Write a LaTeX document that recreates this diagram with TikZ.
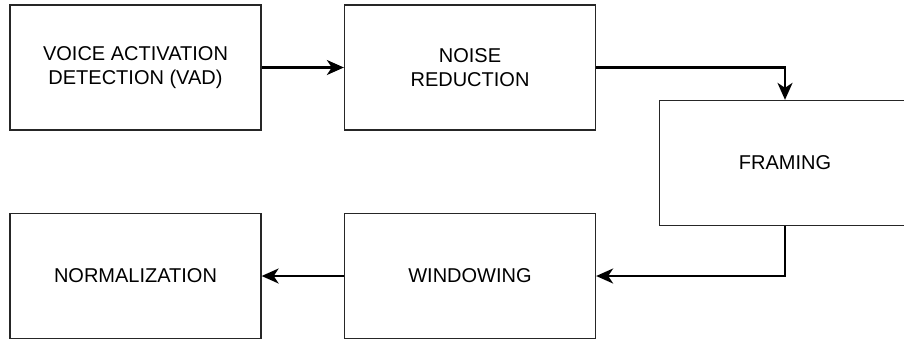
\documentclass[tikz,border=0pt]{standalone}
\usepackage{fontspec}
\setmainfont{Liberation Sans}
\usepackage{tikz}
\usetikzlibrary{shapes,arrows.meta}
\tikzset{x=1pt, y=-1pt, every edge/.style={draw,
		-{Stealth[length=17pt,width=15pt,inset=5pt]},line width=2.3pt},
	flow/.style={draw,-{Stealth[length=17pt,width=15pt,inset=5pt]},line width=2.3pt}}
\tikzstyle{stage}=[rectangle,draw=black!85,fill=white,line width=1.3pt,inner sep=0pt,minimum width=251pt,minimum height=125pt,align=center,font=\fontsize{20}{23.5}\selectfont]

\begin{document}
\begin{tikzpicture}
	\useasboundingbox (0,0) rectangle (904,343);
	\node at (135.5,67.5) [stage] (vad) {VOICE ACTIVATION\\DETECTION (VAD)};
	\node at (470,67.5) [stage] (noise) {NOISE\\REDUCTION};
	\node at (785,163) [stage] (framing) {FRAMING};
	\node at (470,276) [stage] (windowing) {WINDOWING};
	\node at (135.5,276) [stage] (norm) {NORMALIZATION};
	\draw (vad) edge (noise);
	\draw[flow] (noise.east) -| (framing.north);
	\draw[flow] (framing.south) |- (windowing.east);
	\draw (windowing) edge (norm);
\end{tikzpicture}
\end{document}
